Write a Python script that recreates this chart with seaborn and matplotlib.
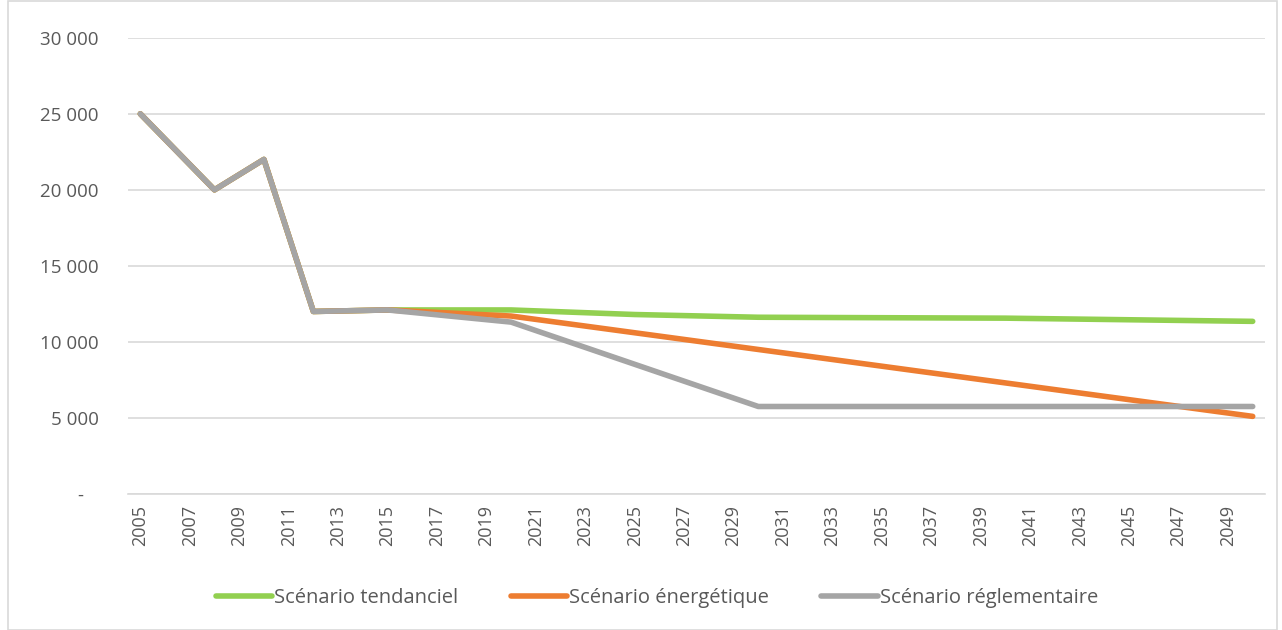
import matplotlib
matplotlib.use('Agg')

import numpy as np
import pandas as pd
import seaborn as sns
import matplotlib.pyplot as plt
from matplotlib.ticker import FuncFormatter, MultipleLocator

# Data
years_hist = [2005, 2008, 2010, 2012, 2015]
values_hist = [25000, 20000, 22000, 12000, 12100]

years_tend = [2020, 2025, 2030, 2040, 2050]
values_tend = [12100, 11800, 11620, 11560, 11350]

years_ener = [2020, 2050]
values_ener = [11700, 5100]

years_regl = [2020, 2030, 2050]
values_regl = [11300, 5750, 5750]

series_names = ["Scénario tendanciel", "Scénario énergétique", "Scénario réglementaire"]
colors = ["#92D050", "#ED7D31", "#A5A5A5"]

rows = []
for name, yrs, vals in zip(series_names,
                           [years_tend, years_ener, years_regl],
                           [values_tend, values_ener, values_regl]):
    for y, v in zip(years_hist + yrs, values_hist + vals):
        rows.append({"annee": y, "valeur": v, "scenario": name})
df = pd.DataFrame(rows)

sns.set_style("white")
plt.rcParams['font.family'] = ['Open Sans', 'DejaVu Sans']

fig = plt.figure(figsize=(12.82, 6.30), dpi=100)
ax = fig.add_axes([0.0998, 0.216, 0.887, 0.724])

sns.lineplot(data=df, x="annee", y="valeur", hue="scenario",
             hue_order=series_names, palette=colors, linewidth=4,
             solid_capstyle='round', sort=False, estimator=None, ax=ax)

ax.set_xlim(2004.5, 2050.5)
ax.set_ylim(0, 30000)
ax.yaxis.set_major_locator(MultipleLocator(5000))
ax.set_xticks(range(2005, 2051, 2))
ax.set_xticklabels([str(y) for y in range(2005, 2051, 2)], rotation=90)

def fmt(v, pos):
    if v == 0:
        return "-   "
    return f"{int(v):,}".replace(",", " ")
ax.yaxis.set_major_formatter(FuncFormatter(fmt))

ax.grid(axis='y', color='#D9D9D9', linewidth=1.2)
ax.set_axisbelow(True)
for s in ['top', 'right', 'left']:
    ax.spines[s].set_visible(False)
ax.spines['bottom'].set_color('#D9D9D9')
ax.spines['bottom'].set_linewidth(1.2)
ax.tick_params(axis='both', length=0, labelcolor='#595959')
ax.tick_params(axis='y', pad=21, labelsize=13.5)
ax.tick_params(axis='x', pad=8, labelsize=13)
ax.set_xlabel("")
ax.set_ylabel("")

leg = ax.legend(loc='center', bbox_to_anchor=(0.465, -0.228), ncol=3, frameon=False,
                fontsize=14.5, handlelength=2.8, handletextpad=0.1, columnspacing=2.6)
for t in leg.get_texts():
    t.set_color('#595959')
for h in leg.get_lines():
    h.set_linewidth(4)
    h.set_solid_capstyle('round')

# chart-area border
fig.patches.append(plt.Rectangle((0.006, 0.0), 0.99, 0.998, transform=fig.transFigure,
                                 fill=False, edgecolor='#D9D9D9', linewidth=1.2))

fig.savefig("out.png", dpi=100)
plt.close()
